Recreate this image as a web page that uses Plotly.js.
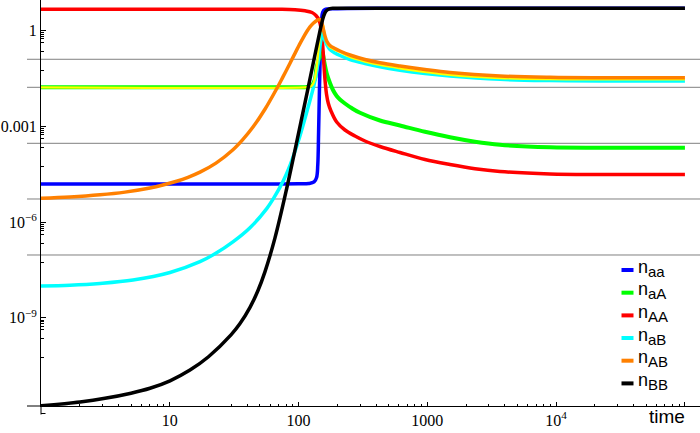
<!DOCTYPE html>
<html><head><meta charset="utf-8">
<script src="https://cdn.plot.ly/plotly-3.0.1.min.js"></script>
<style>html,body{margin:0;padding:0;background:#fff}#chart{width:700px;height:433px}</style>
</head><body><div id="chart"></div>
<script>
// ---- data (time, density) ----
const t_aa = [1, 50, 100, 120, 132, 138, 141, 143, 145, 147, 149, 151, 154, 160, 200, 1000, 1e5];
const n_aa = [1.56e-5, 1.56e-5, 1.58e-5, 1.62e-5, 1.82e-5, 2.51e-5, 6.3e-5, 6.3e-4, 0.01, 0.126, 0.794, 2.24, 3.80, 4.57, 4.90, 5.01, 5.01];

const t_aA = [1, 102.5, 116.2, 127.1, 134.1, 137.7, 145.3, 149.3, 151.9, 155.5, 158.9, 165.3, 175.3, 185.0, 197.6, 209.6, 229.2, 259.8, 299.8, 428.5, 612.8, 958, 1498, 2342, 3662, 8953, 21890, 1e5];
const n_aA = [0.01682, 0.01682, 0.01718, 0.01986, 0.0306, 0.0677, 0.150, 0.231, 0.239, 0.161, 0.0971, 0.0462, 0.0229, 0.01383, 8.97e-3, 6.97e-3, 5.22e-3, 3.69e-3, 2.67e-3, 1.53e-3, 1.07e-3, 6.77e-4, 4.55e-4, 3.31e-4, 2.65e-4, 2.21e-4, 2.15e-4, 2.15e-4];

const t_AA = [1, 71.7, 93.8, 112.1, 127.1, 136.5, 144.0, 149.3, 152.8, 155.5, 158.3, 161.2, 164.7, 170.1, 178.5, 197.6, 229.2, 274.1, 327.8, 428.5, 612.8, 958, 1498, 2342, 3662, 8953, 21890, 1e5];
const n_AA = [4.69, 4.69, 4.55, 4.21, 3.72, 2.99, 2.16, 1.22, 0.511, 0.186, 0.0586, 0.0229, 0.0104, 5.30e-3, 3.04e-3, 1.37e-3, 7.71e-4, 5.00e-4, 3.48e-4, 2.34e-4, 1.52e-4, 9.17e-5, 6.39e-5, 4.72e-5, 3.86e-5, 3.22e-5, 3.10e-5, 3.10e-5];

const t_aB = [1, 1.68, 2.87, 5.18, 10.04, 17.16, 22.44, 31.1, 41.95, 56.6, 63.6, 76.1, 85.8, 99.5, 112.1, 122.6, 129.4, 134.1, 139.0, 142.7, 146.6, 149.3, 151.9, 153.9, 155.5, 160.3, 165.3, 175.3, 191.7, 209.6, 250.6, 327.8, 428.5, 612.8, 958, 1498, 3662, 8953, 21890, 1e5];
const n_aB = [9.93e-9, 1.05e-8, 1.19e-8, 1.52e-8, 2.63e-8, 5.74e-8, 1.01e-7, 2.43e-7, 6.64e-7, 2.65e-6, 5.36e-6, 1.96e-5, 5.97e-5, 3.40e-4, 1.76e-3, 6.44e-3, 0.01466, 0.0277, 0.0613, 0.131, 0.315, 0.552, 0.791, 0.853, 0.733, 0.493, 0.369, 0.257, 0.200, 0.167, 0.125, 0.0937, 0.0738, 0.0578, 0.0455, 0.0380, 0.0299, 0.0273, 0.0265, 0.0265];

const t_AB = [1, 1.68, 2.87, 4.49, 7.02, 8.85, 11.3, 13.85, 17.16, 22.84, 30.96, 37.0, 44.26, 54.8, 67.6, 75.65, 85.8, 93.8, 102.5, 108.2, 116.2, 122.6, 130.1, 139.0, 146.6, 150.6, 155.5, 160.3, 165.3, 175.3, 191.7, 209.6, 250.6, 327.8, 428.5, 612.8, 958, 1498, 3662, 8953, 21890, 1e5];
const n_AB = [5.57e-6, 6.10e-6, 7.14e-6, 8.71e-6, 1.17e-5, 1.45e-5, 1.91e-5, 2.54e-5, 3.68e-5, 7.06e-5, 1.85e-4, 3.91e-4, 9.53e-4, 3.45e-3, 0.01514, 0.0357, 0.0955, 0.195, 0.393, 0.587, 0.959, 1.31, 1.71, 2.11, 2.25, 1.94, 1.13, 0.682, 0.475, 0.344, 0.277, 0.231, 0.173, 0.125, 0.0986, 0.0782, 0.0608, 0.0490, 0.0380, 0.0344, 0.0334, 0.0334];

const t_BB = [1, 2.01, 3.14, 5.00, 7.02, 10.04, 14.35, 19.98, 29.87, 35.1, 41.95, 48.4, 54.8, 65.6, 80.8, 94.6, 117.3, 130.5, 139.0, 145.3, 150.6, 156.1, 163.2, 175.3, 191.7, 612.8, 1e5];
const n_BB = [1.74e-12, 2.31e-12, 3.00e-12, 4.33e-12, 6.18e-12, 1.06e-11, 2.30e-11, 6.01e-11, 2.91e-10, 6.59e-10, 2.13e-9, 7.16e-9, 2.76e-8, 3.21e-7, 1.11e-5, 2.13e-4, 0.01303, 0.1043, 0.351, 0.826, 1.59, 2.76, 4.10, 4.93, 5.04, 5.04, 5.04];

// unlabelled yellow curve
const t_Y = [1, 112.1, 122.6, 129.4, 134.1, 138.2, 142.2, 146.6, 149.3, 151.9, 154.7, 157.5, 160.3, 165.3, 175.3, 209.6, 250.6, 327.8, 428.5, 612.8, 1498, 3662, 8953, 21890, 1e5];
const n_Y = [0.01682, 0.01682, 0.01742, 0.0213, 0.0329, 0.0728, 0.215, 0.733, 1.31, 1.62, 1.51, 1.05, 0.682, 0.427, 0.308, 0.215, 0.150, 0.108, 0.0841, 0.0663, 0.0415, 0.0329, 0.0304, 0.0299, 0.0299];

const legendNames = ['aa', 'aA', 'AA', 'aB', 'AB', 'BB'];
const legendColors = ['#0000ff', '#00ff00', '#ff0000', '#00ffff', '#ff8000', '#000000'];
const gridValues = [0.127, 0.0168, 2.95e-4, 5.3e-6, 9.3e-8];
const xTickVals = [1, 10, 100, 1000, 1e4, 1e5];
const xTickText = ['', '10', '100', '1000', '10<sup>4</sup>', ''];
const yTickVals = [1, 1e-3, 1e-6, 1e-9, 1e-12];
const yTickText = ['1', '0.001', '10<sup>−6</sup>', '10<sup>−9</sup>', ''];
const yMinorFactors = [0.85, 0.75, 0.65, 0.55, 0.42, 0.22, 0.055];

// ---- layout geometry ----
const W = 700, H = 433, ML = 41, MB = 27;
const PW = W - ML, PH = H - MB;
const Y0 = -11.765, Y1 = 0.962;
const X0 = 0, X1 = 5.117;
const px2paperX = px => (px - ML) / PW;
const py2paperY = py => (PH - py) / PH;
const val2paperY = v => (Math.log10(v) - Y0) / (Y1 - Y0);

const xMinor = [];
for (let k = 0; k <= 5; k++) for (let m = 2; m <= 9; m++) xMinor.push(m * Math.pow(10, k));
const yMinor = [];
yTickVals.forEach(M => yMinorFactors.forEach(f => yMinor.push(M * f)));

const series = [
  {x: t_aa, y: n_aa, c: legendColors[0], w: 3.5, name: 'n_aa'},
  {x: t_aA, y: n_aA, c: legendColors[1], w: 4, name: 'n_aA'},
  {x: t_AA, y: n_AA, c: legendColors[2], w: 3.5, name: 'n_AA'},
  {x: t_aB, y: n_aB, c: legendColors[3], w: 3.5, name: 'n_aB'},
  {x: t_Y,  y: n_Y,  c: '#ffff00', w: 2.3, name: 'yellow'},
  {x: t_AB, y: n_AB, c: legendColors[4], w: 3.5, name: 'n_AB'},
  {x: t_BB, y: n_BB, c: legendColors[5], w: 3.5, name: 'n_BB'}
];
const traces = series.map(s => ({
  type: 'scatter', mode: 'lines', x: s.x, y: s.y, name: s.name,
  line: {color: s.c, width: s.w, shape: 'spline', smoothing: 1, simplify: false},
  showlegend: false, hoverinfo: 'skip'
}));

const shapes = [];
gridValues.forEach(v => shapes.push({
  type: 'line', xref: 'paper', yref: 'paper', layer: 'below',
  x0: px2paperX(27), x1: 1, y0: val2paperY(v), y1: val2paperY(v),
  line: {color: '#808080', width: 1}
}));
// x axis line extension to the left, y axis extension below
shapes.push({type: 'line', xref: 'paper', yref: 'paper', x0: px2paperX(27), x1: 0, y0: 0, y1: 0, line: {color: '#000', width: 1}});
shapes.push({type: 'line', xref: 'paper', yref: 'paper', x0: 0, x1: 0, y0: 0, y1: py2paperY(414.5), line: {color: '#000', width: 1}});
shapes.push({type: 'line', xref: 'paper', yref: 'paper', x0: 0, x1: px2paperX(45.5), y0: py2paperY(413.5), y1: py2paperY(413.5), line: {color: '#000', width: 1}});

const annotations = [];
const rowY = [270, 292.7, 315.4, 338, 360.7, 383.4];
legendNames.forEach((nm, i) => {
  shapes.push({type: 'line', xref: 'paper', yref: 'paper',
    x0: px2paperX(621.5), x1: px2paperX(633.5), y0: py2paperY(rowY[i]), y1: py2paperY(rowY[i]),
    line: {color: legendColors[i], width: 4}});
  annotations.push({xref: 'paper', yref: 'paper', x: px2paperX(636), y: py2paperY(rowY[i] - 2),
    xanchor: 'left', yanchor: 'middle', showarrow: false,
    text: 'n<sub><span style="font-size:15px">' + nm + '</span></sub>',
    font: {family: 'Liberation Sans, Arial, sans-serif', size: 18, color: '#000'}});
});
annotations.push({xref: 'paper', yref: 'paper', x: px2paperX(687), y: py2paperY(416),
  xanchor: 'right', yanchor: 'middle', showarrow: false, text: 'time',
  font: {family: 'Liberation Sans, Arial, sans-serif', size: 19, color: '#000'}});

const tickFont = {family: '"Liberation Serif", "Times New Roman", serif', size: 16, color: '#000'};
const layout = {
  width: W, height: H,
  margin: {l: ML, r: 0, t: 0, b: MB, pad: 0},
  paper_bgcolor: '#fff', plot_bgcolor: '#fff',
  showlegend: false,
  xaxis: {
    type: 'log', range: [X0, X1], showgrid: false, zeroline: false,
    showline: true, linecolor: '#000', linewidth: 1,
    tickmode: 'array', tickvals: xTickVals, ticktext: xTickText,
    ticks: 'inside', ticklen: 4.5, tickcolor: '#000', tickwidth: 1,
    tickfont: tickFont,
    minor: {tickmode: 'array', tickvals: xMinor, ticks: 'inside', ticklen: 2.5, tickcolor: '#000', tickwidth: 1, showgrid: false}
  },
  yaxis: {
    type: 'log', range: [Y0, Y1], showgrid: false, zeroline: false,
    showline: true, linecolor: '#000', linewidth: 1,
    tickmode: 'array', tickvals: yTickVals, ticktext: yTickText,
    ticks: 'inside', ticklen: 4.5, tickcolor: '#000', tickwidth: 1,
    tickfont: tickFont,
    minor: {tickmode: 'array', tickvals: yMinor, ticks: 'inside', ticklen: 2.5, tickcolor: '#000', tickwidth: 1, showgrid: false}
  },
  shapes: shapes,
  annotations: annotations
};
Plotly.newPlot('chart', traces, layout, {staticPlot: true, displayModeBar: false});
</script></body></html>
